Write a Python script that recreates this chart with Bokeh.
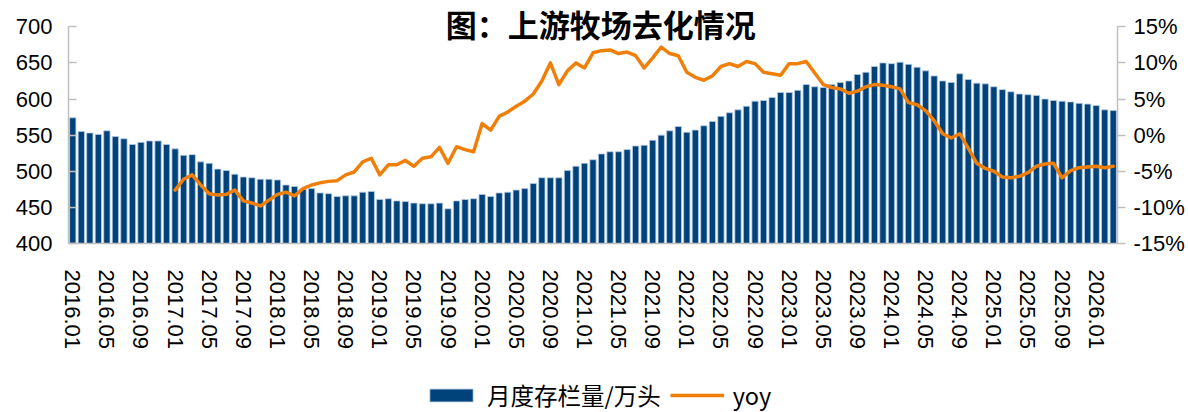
from bokeh.plotting import figure
from bokeh.layouts import column
from bokeh.models import (Range1d, LinearAxis, FixedTicker, PrintfTickFormatter,
                          Legend, LegendItem, Label, ColumnDataSource)
from bokeh.embed import file_html
from bokeh.resources import INLINE

# ---------------- data ----------------
tick_labels = ["2016.01", "2016.05", "2016.09", "2017.01", "2017.05", "2017.09",
               "2018.01", "2018.05", "2018.09", "2019.01", "2019.05", "2019.09",
               "2020.01", "2020.05", "2020.09", "2021.01", "2021.05", "2021.09",
               "2022.01", "2022.05", "2022.09", "2023.01", "2023.05", "2023.09",
               "2024.01", "2024.05", "2024.09", "2025.01", "2025.05", "2025.09",
               "2026.01"]

# monthly herd inventory (10k head), 2016.01 .. 2026.03
stock = [574, 555, 553, 551, 556, 548, 545, 537, 540, 542, 542, 537,
         531, 522, 523, 513, 511, 503, 501, 496, 492, 491, 489, 489,
         488, 481, 479, 475, 476, 470, 469, 465, 466, 466, 471, 472,
         461, 462, 459, 458, 456, 455, 455, 456, 448, 459, 461, 462,
         468, 465, 470, 471, 474, 476, 483, 491, 491, 491, 501, 507,
         511, 516, 524, 527, 527, 530, 535, 536, 543, 550, 556, 562,
         554, 557, 563, 569, 576, 581, 585, 590, 597, 598, 602, 609,
         609, 612, 620, 617, 616, 620, 623, 625, 634, 637, 645, 650,
         649, 651, 648, 644, 639, 632, 625, 623, 635, 627, 622, 621,
         617, 613, 610, 607, 606, 605, 600, 598, 597, 596, 594, 593,
         591, 585, 584]

# yoy (%), 2017.01 .. 2026.03
yoy = [-7.6, -6.1, -5.5, -6.9, -8.1, -8.3, -8.2, -7.6, -9.1, -9.4, -9.8, -9.0,
       -8.2, -7.9, -8.4, -7.4, -6.9, -6.6, -6.4, -6.3, -5.5, -5.1, -3.7, -3.2,
       -5.5, -4.1, -4.1, -3.5, -4.3, -3.2, -3.0, -1.7, -3.9, -1.6, -2.0, -2.3,
       1.6, 0.7, 2.6, 3.2, 4.0, 4.7, 5.7, 7.5, 10.0, 7.0, 8.9, 10.0,
       9.3, 11.4, 11.7, 11.8, 11.3, 11.5, 11.0, 9.3, 10.7, 12.2, 11.3, 11.0,
       8.7, 8.0, 7.6, 8.2, 9.5, 9.9, 9.5, 10.2, 9.9, 8.7, 8.5, 8.3,
       9.9, 9.9, 10.2, 8.6, 7.0, 6.6, 6.4, 5.8, 6.1, 6.7, 7.0, 6.9,
       6.7, 6.4, 4.5, 4.2, 3.4, 2.0, 0.2, -0.4, 0.2, -1.8, -3.9, -4.6,
       -5.0, -5.8, -5.9, -5.7, -5.2, -4.3, -4.0, -3.9, -5.9, -4.9, -4.5, -4.4,
       -4.3, -4.5, -4.3]

left_ticks = [400, 450, 500, 550, 600, 650, 700]
right_ticks = [-15, -10, -5, 0, 5, 10, 15]

n = len(stock)
x_idx = list(range(n))
yoy_x = x_idx[n - len(yoy):]

BLUE = "#00427A"
ORANGE = "#F07F09"
EDGE = "#B8CCE4"
AXIS = "#BFBFBF"
NUMFONT = "Liberation Sans"
CJK = "Noto Sans CJK SC"

# main chart: frame spans the top of the canvas so the title can overlap it;
# the axes are bounded to their value ranges.
p = figure(width=1188, height=352, output_backend="svg", toolbar_location=None,
           x_range=Range1d(-0.5, n - 0.5), y_range=Range1d(400, 736.4),
           min_border_left=68, min_border_right=71, min_border_top=0,
           min_border_bottom=105)
p.outline_line_color = None
p.xgrid.visible = False
p.ygrid.visible = False
p.extra_y_ranges = {"yoy": Range1d(-15, 18.64)}

p.vbar(x="x", top="top", bottom=400, width=0.74,
       source=ColumnDataSource(dict(x=x_idx, top=stock)),
       fill_color=BLUE, line_color=EDGE, line_width=0.8)
p.line(x=yoy_x, y=yoy, y_range_name="yoy", line_color=ORANGE,
       line_width=3.5, line_join="round", line_cap="round")

# left axis
ly = p.yaxis[0]
ly.ticker = FixedTicker(ticks=left_ticks)
ly.bounds = (400, 700)
ly.major_tick_in = 8
ly.major_tick_out = 0
ly.minor_tick_line_color = None
ly.axis_line_color = AXIS
ly.axis_line_width = 1.5
ly.major_tick_line_color = AXIS
ly.major_tick_line_width = 1.5
ly.major_label_text_font = NUMFONT
ly.major_label_text_font_size = "22px"
ly.major_label_text_color = "black"
ly.major_label_standoff = 16

# right axis
ry = LinearAxis(y_range_name="yoy", ticker=FixedTicker(ticks=right_ticks),
                formatter=PrintfTickFormatter(format="%d%%"), bounds=(-15, 15))
ry.major_tick_in = 0
ry.major_tick_out = 8
ry.minor_tick_line_color = None
ry.axis_line_color = AXIS
ry.axis_line_width = 1.5
ry.major_tick_line_color = AXIS
ry.major_tick_line_width = 1.5
ry.major_label_text_font = NUMFONT
ry.major_label_text_font_size = "22px"
ry.major_label_text_color = "black"
ry.major_label_standoff = 8
p.add_layout(ry, "right")

# bottom axis
bx = p.xaxis[0]
bx.ticker = FixedTicker(ticks=list(range(0, n, 4)))
bx.major_label_overrides = {i * 4: lab for i, lab in enumerate(tick_labels)}
bx.major_label_orientation = "vertical"
bx.major_tick_line_color = None
bx.minor_tick_line_color = None
bx.axis_line_color = AXIS
bx.axis_line_width = 1.5
bx.major_label_text_font = NUMFONT
bx.major_label_text_font_size = "22px"
bx.major_label_text_color = "black"
bx.major_label_standoff = 20

# title
p.add_layout(Label(x=61.9, y=704.4, text="图：上游牧场去化情况",
                   text_align="center", text_baseline="middle",
                   text_font=CJK, text_font_size="31px", text_font_style="bold",
                   text_color="black"))

# legend strip below the chart (proxy renderers sit below the visible range)
lg = figure(width=1188, height=60, output_backend="svg", toolbar_location=None,
            x_range=Range1d(0, 1), y_range=Range1d(0, 1),
            x_axis_type=None, y_axis_type=None,
            min_border_left=0, min_border_right=0, min_border_top=0,
            min_border_bottom=0,
            background_fill_color="white", border_fill_color="white")
lg.outline_line_color = None
lg.xgrid.visible = False
lg.ygrid.visible = False
proxy = ColumnDataSource(dict(x=[0.4, 0.6], top=[-5, -5], y=[-5, -5]))
r_bar = lg.vbar(x="x", top="top", bottom=-6, width=0.01, source=proxy,
                fill_color=BLUE, line_color=EDGE, line_width=0.8)
r_line = lg.line(x="x", y="y", source=proxy, line_color=ORANGE, line_width=3.5)

legend = Legend(items=[LegendItem(label="月度存栏量/万头", renderers=[r_bar]),
                       LegendItem(label="yoy", renderers=[r_line])],
                orientation="horizontal", location=(356, 0),
                glyph_width=54, glyph_height=16, label_standoff=9, spacing=9,
                padding=0, margin=0, border_line_color=None,
                background_fill_alpha=0, label_text_font=CJK,
                label_text_font_size="23.5px", label_text_color="black")
lg.add_layout(legend)

layout = column(p, lg, spacing=0)
open("out.html", "w").write(file_html(layout, INLINE))
